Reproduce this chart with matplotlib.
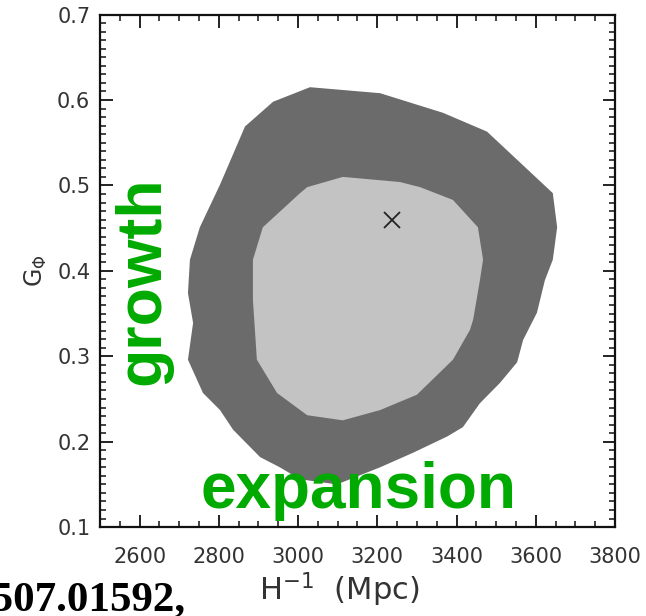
import numpy as np
import matplotlib
matplotlib.use("Agg")
import matplotlib.pyplot as plt
from matplotlib.ticker import MultipleLocator

# 95% (outer) and 68% (inner) confidence contours
outer_h = [3030, 3207, 3366, 3477, 3643, 3654, 3643, 3623, 3603, 3568, 3553, 3510,
           3459, 3416, 3376, 3290, 3207, 3098, 3005, 2954, 2904, 2836, 2803, 2760,
           2722, 2735, 2722, 2727, 2752, 2803, 2866, 2937]
outer_g = [0.615, 0.608, 0.585, 0.563, 0.491, 0.451, 0.413, 0.389, 0.351, 0.319, 0.293, 0.269,
           0.245, 0.217, 0.206, 0.187, 0.170, 0.150, 0.156, 0.170, 0.182, 0.214, 0.237, 0.257,
           0.296, 0.339, 0.374, 0.413, 0.451, 0.501, 0.569, 0.598]

inner_h = [3113, 3257, 3308, 3391, 3454, 3467, 3459, 3442, 3434, 3391, 3300, 3207,
           3113, 3023, 2947, 2896, 2886, 2886, 2911, 3005, 3023]
inner_g = [0.510, 0.504, 0.498, 0.483, 0.451, 0.413, 0.389, 0.343, 0.331, 0.296, 0.255, 0.237,
           0.225, 0.231, 0.257, 0.296, 0.366, 0.413, 0.451, 0.491, 0.498]

best_h = 3237
best_g = 0.46

fig = plt.figure(figsize=(6.46, 6.16), dpi=100)
ax = fig.add_axes([0.1548, 0.1443, 0.7972, 0.832])

ax.fill(outer_h, outer_g, color="#6b6b6b", lw=0)
ax.fill(inner_h, inner_g, color="#c3c3c3", lw=0)
ax.plot(best_h, best_g, marker="x", color="#222222", ms=11, mew=1.3)

ax.set_xlim(2500, 3800)
ax.set_ylim(0.1, 0.7)
ax.xaxis.set_major_locator(MultipleLocator(200))
ax.xaxis.set_minor_locator(MultipleLocator(50))
ax.yaxis.set_major_locator(MultipleLocator(0.1))
ax.yaxis.set_minor_locator(MultipleLocator(0.01))
ax.tick_params(which="both", direction="in", top=True, right=True, color="#111111")
ax.tick_params(which="major", length=9, width=1.3, labelsize=15, labelcolor="#333333")
ax.tick_params(axis="x", which="major", pad=14)
ax.tick_params(axis="y", which="major", pad=7)
ax.tick_params(which="minor", length=4.5, width=1.1)
for s in ax.spines.values():
    s.set_linewidth(1.6)
    s.set_color("#111111")

ax.text(0.464, -0.123, r"H$^{-1}$  (Mpc)", transform=ax.transAxes, ha="center", va="center",
        fontsize=22, color="#333333")
ax.set_ylabel(r"G$_\Phi$", fontsize=17, color="#333333", labelpad=6)

ax.text(2609, 0.389, "growth", rotation=90, ha="center", va="center",
        fontsize=45, fontweight="bold", color="#00aa00", family="Liberation Sans")
ax.text(3152, 0.1224, "expansion", ha="center", va="baseline",
        fontsize=46, fontweight="bold", color="#00aa00", family="Liberation Sans")

fig.text(186 / 646, 1 - 610 / 616, "1507.01592,", ha="right", va="baseline",
         fontsize=31, fontweight="bold", family="Liberation Serif", color="black")

fig.savefig("out.png", dpi=100)
